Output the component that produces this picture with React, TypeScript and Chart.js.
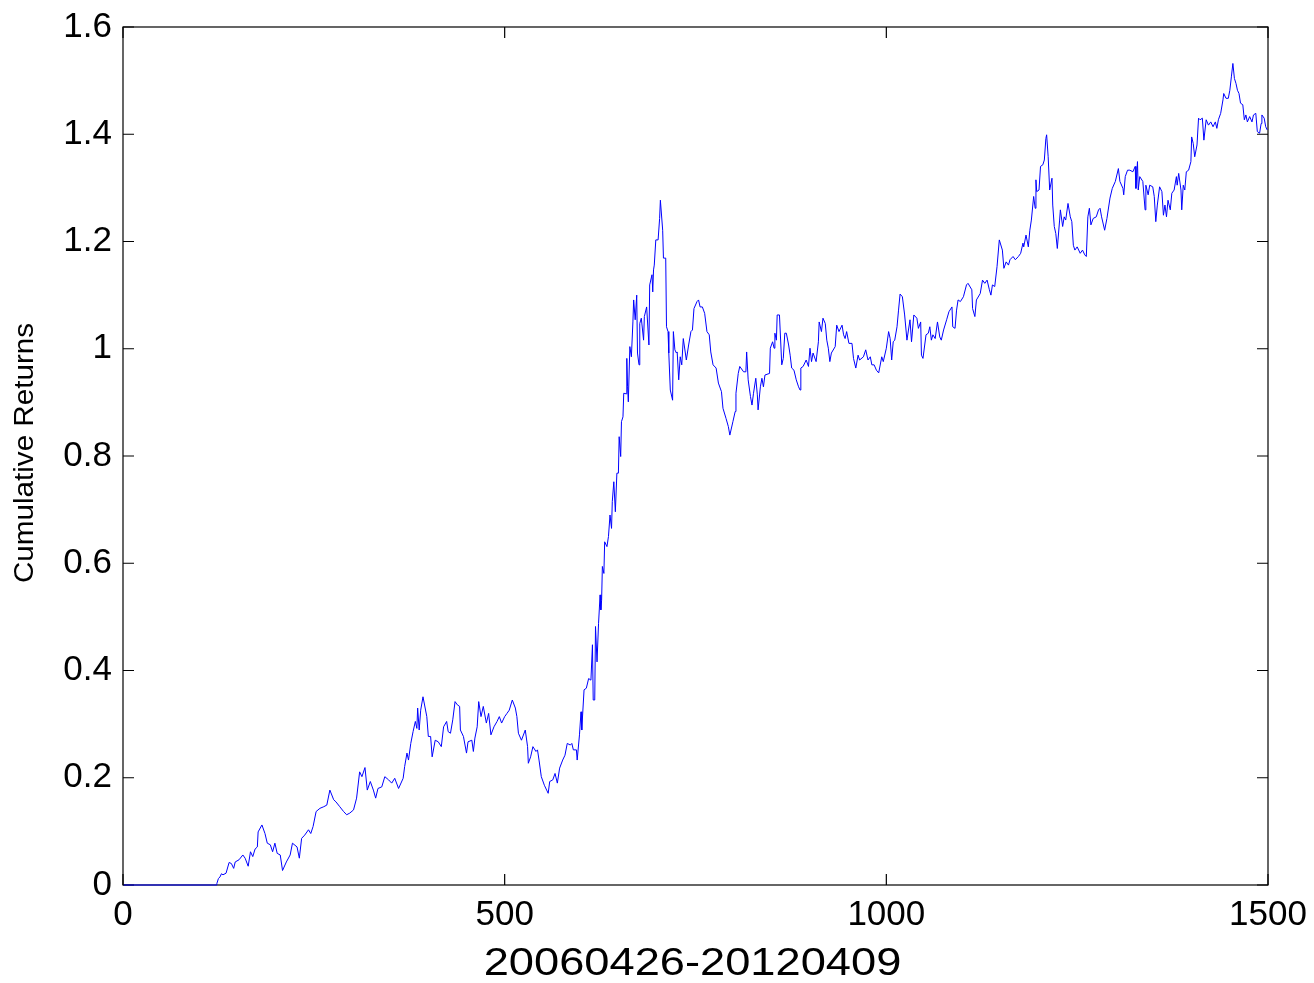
import React, { useEffect, useRef } from 'react';
import { Chart, registerables } from 'chart.js';

Chart.register(...registerables);

const X_TITLE = '20060426-20120409';
const Y_TITLE = 'Cumulative Returns';
const X_TICKS = [0, 500, 1000, 1500];
const Y_TICKS = [0, 0.2, 0.4, 0.6, 0.8, 1, 1.2, 1.4, 1.6];

const dayIndex = [
  1, 122, 123, 125, 127, 129, 131, 135, 139, 142, 145, 147, 152, 157, 160, 164, 167, 170, 173, 176,
  177, 182, 186, 189, 193, 196, 199, 202, 206, 209, 214, 219, 222, 228, 231, 234, 238, 243, 246, 249,
  253, 258, 263, 267, 271, 276, 279, 284, 289, 293, 297, 302, 306, 310, 313, 317, 320, 324, 328, 331,
  334, 339, 343, 348, 352, 356, 361, 367, 369, 372, 374, 377, 380, 383, 385, 386, 388, 390, 393, 398,
  400, 403, 405, 409, 413, 417, 420, 424, 426, 429, 432, 435, 438, 441, 442, 446, 450, 452, 457, 459,
  461, 464, 466, 469, 472, 476, 479, 482, 486, 490, 493, 496, 500, 503, 506, 510, 514, 516, 518, 522,
  527, 530, 531, 534, 537, 541, 543, 545, 548, 552, 555, 557, 559, 563, 566, 569, 572, 576, 579, 582,
  586, 588, 590, 594, 595, 598, 600, 601, 604, 607, 610, 613, 615, 616, 618, 619, 621, 623, 625, 626,
  627, 628, 630, 631, 634, 636, 638, 640, 641, 643, 645, 647, 649, 650, 652, 653, 655, 656, 659, 660,
  661, 662, 664, 666, 668, 669, 671, 673, 674, 676, 677, 679, 682, 683, 686, 689, 690, 693, 694, 695,
  696, 698, 701, 703, 704, 707, 708, 711, 712, 714, 715, 717, 720, 721, 723, 725, 726, 728, 730, 732,
  734, 738, 741, 744, 746, 748, 752, 754, 756, 759, 762, 765, 768, 770, 773, 777, 780, 784, 786, 790,
  793, 795, 799, 802, 803, 806, 808, 813, 816, 817, 819, 822, 824, 826, 829, 831, 832, 835, 837, 839,
  841, 847, 848, 851, 853, 854, 856, 857, 860, 863, 865, 867, 869, 872, 874, 876, 879, 882, 885, 887,
  888, 891, 895, 898, 900, 902, 904, 908, 911, 912, 915, 917, 920, 922, 924, 926, 928, 933, 935, 938,
  942, 944, 946, 948, 951, 955, 957, 960, 963, 965, 970, 973, 976, 979, 981, 984, 987, 990, 994, 996,
  1000, 1003, 1005, 1007, 1009, 1011, 1014, 1016, 1018, 1021, 1024, 1027, 1031, 1033, 1036, 1040, 1042, 1045, 1046, 1048,
  1052, 1055, 1057, 1059, 1061, 1064, 1067, 1070, 1072, 1075, 1079, 1082, 1086, 1087, 1090, 1092, 1094, 1097, 1101, 1105,
  1107, 1112, 1113, 1116, 1118, 1123, 1126, 1129, 1132, 1135, 1137, 1139, 1142, 1145, 1148, 1152, 1154, 1157, 1160, 1162,
  1166, 1169, 1173, 1176, 1179, 1180, 1183, 1186, 1188, 1190, 1193, 1195, 1196, 1197, 1200, 1202, 1205, 1207, 1209, 1210,
  1212, 1214, 1217, 1218, 1220, 1222, 1224, 1227, 1228, 1231, 1233, 1235, 1238, 1241, 1243, 1245, 1247, 1250, 1254, 1257,
  1260, 1262, 1264, 1266, 1268, 1271, 1275, 1278, 1280, 1282, 1286, 1289, 1293, 1296, 1300, 1302, 1304, 1306, 1310, 1311,
  1313, 1316, 1319, 1323, 1326, 1327, 1329, 1330, 1332, 1336, 1339, 1340, 1343, 1345, 1349, 1351, 1353, 1355, 1358, 1361,
  1363, 1365, 1367, 1369, 1372, 1374, 1377, 1380, 1381, 1383, 1386, 1387, 1389, 1391, 1393, 1396, 1399, 1400, 1402, 1404,
  1407, 1409, 1411, 1414, 1416, 1419, 1422, 1425, 1428, 1431, 1433, 1435, 1438, 1441, 1442, 1445, 1448, 1450, 1452, 1454,
  1456, 1458, 1460, 1462, 1464, 1467, 1469, 1471, 1473, 1476, 1479, 1481, 1484, 1486, 1489, 1491, 1492, 1495, 1497, 1499,
];

const cumulativeReturns = [
  0, 0, 0.003, 0.012, 0.015, 0.021, 0.019, 0.022, 0.042, 0.04, 0.031, 0.043, 0.047, 0.056, 0.05, 0.035, 0.062, 0.053, 0.067, 0.071,
  0.099, 0.112, 0.096, 0.078, 0.075, 0.062, 0.078, 0.059, 0.056, 0.027, 0.043, 0.056, 0.078, 0.071, 0.05, 0.087, 0.093, 0.103, 0.096, 0.109,
  0.137, 0.143, 0.146, 0.149, 0.177, 0.159, 0.155, 0.146, 0.137, 0.131, 0.134, 0.14, 0.162, 0.211, 0.202, 0.219, 0.177, 0.193, 0.177, 0.162,
  0.18, 0.183, 0.202, 0.196, 0.19, 0.199, 0.18, 0.199, 0.221, 0.246, 0.233, 0.264, 0.286, 0.305, 0.292, 0.33, 0.289, 0.326, 0.351, 0.314,
  0.277, 0.277, 0.239, 0.27, 0.267, 0.258, 0.295, 0.305, 0.286, 0.283, 0.308, 0.342, 0.336, 0.333, 0.289, 0.277, 0.246, 0.267, 0.27, 0.249,
  0.274, 0.295, 0.342, 0.314, 0.333, 0.302, 0.32, 0.28, 0.295, 0.305, 0.314, 0.302, 0.314, 0.32, 0.326, 0.345, 0.33, 0.314, 0.283, 0.27,
  0.289, 0.258, 0.227, 0.239, 0.258, 0.249, 0.252, 0.233, 0.202, 0.186, 0.177, 0.171, 0.193, 0.196, 0.208, 0.19, 0.218, 0.233, 0.242, 0.264,
  0.261, 0.264, 0.252, 0.252, 0.233, 0.28, 0.323, 0.289, 0.364, 0.367, 0.385, 0.382, 0.448, 0.345, 0.345, 0.482, 0.416, 0.488, 0.541, 0.513,
  0.531, 0.594, 0.581, 0.64, 0.631, 0.65, 0.69, 0.665, 0.715, 0.752, 0.696, 0.768, 0.768, 0.836, 0.799, 0.864, 0.873, 0.917, 0.916, 0.982,
  0.929, 0.901, 1.004, 0.985, 1.05, 1.091, 1.054, 1.1, 0.992, 0.97, 1.047, 1.057, 1.016, 1.06, 1.078, 1.007, 1.119, 1.138, 1.106, 1.147,
  1.156, 1.203, 1.203, 1.243, 1.277, 1.221, 1.169, 1.169, 1.041, 1.032, 0.992, 0.923, 0.904, 1.032, 0.998, 0.992, 0.994, 0.942, 0.985, 0.97,
  1.019, 0.979, 1.007, 1.032, 1.035, 1.075, 1.088, 1.091, 1.078, 1.078, 1.066, 1.032, 1.026, 0.994, 0.97, 0.964, 0.936, 0.92, 0.889, 0.87,
  0.855, 0.839, 0.864, 0.883, 0.917, 0.954, 0.967, 0.957, 0.957, 0.994, 0.942, 0.911, 0.895, 0.917, 0.945, 0.914, 0.886, 0.929, 0.945, 0.929,
  0.951, 0.954, 1.001, 1.013, 1.001, 1.029, 1.016, 1.063, 1.063, 0.97, 0.982, 1.029, 1.029, 1.007, 0.988, 0.964, 0.96, 0.942, 0.929, 0.923,
  0.964, 0.967, 0.979, 0.967, 1.001, 0.976, 0.992, 0.976, 1.013, 1.05, 1.032, 1.057, 1.047, 1.016, 1.001, 0.976, 0.992, 1.004, 1.044, 1.032,
  1.044, 1.026, 1.019, 1.032, 1.01, 1.01, 0.982, 0.964, 0.988, 0.979, 0.985, 0.998, 0.979, 0.985, 0.97, 0.97, 0.96, 0.955, 0.985, 0.976,
  1.001, 1.032, 1.019, 0.979, 1.013, 1.016, 1.041, 1.072, 1.102, 1.097, 1.063, 1.016, 1.054, 1.013, 1.063, 1.057, 1.038, 1.05, 0.988, 0.982,
  1.026, 1.029, 1.041, 1.016, 1.026, 1.019, 1.05, 1.022, 1.016, 1.035, 1.054, 1.069, 1.078, 1.041, 1.038, 1.072, 1.091, 1.088, 1.097, 1.119,
  1.122, 1.11, 1.075, 1.06, 1.091, 1.103, 1.128, 1.122, 1.128, 1.11, 1.1, 1.119, 1.116, 1.153, 1.203, 1.184, 1.15, 1.162, 1.156, 1.166,
  1.172, 1.166, 1.172, 1.178, 1.197, 1.19, 1.212, 1.19, 1.221, 1.24, 1.284, 1.262, 1.315, 1.293, 1.296, 1.34, 1.343, 1.352, 1.392, 1.399,
  1.358, 1.296, 1.318, 1.268, 1.228, 1.215, 1.187, 1.24, 1.259, 1.228, 1.246, 1.24, 1.271, 1.246, 1.237, 1.193, 1.184, 1.19, 1.178, 1.184,
  1.175, 1.172, 1.246, 1.262, 1.231, 1.243, 1.246, 1.259, 1.262, 1.246, 1.221, 1.243, 1.281, 1.299, 1.312, 1.324, 1.336, 1.312, 1.299, 1.287,
  1.321, 1.333, 1.333, 1.33, 1.34, 1.299, 1.349, 1.296, 1.321, 1.312, 1.259, 1.305, 1.287, 1.305, 1.302, 1.284, 1.237, 1.268, 1.302, 1.293,
  1.249, 1.268, 1.246, 1.277, 1.259, 1.29, 1.296, 1.321, 1.305, 1.327, 1.296, 1.259, 1.305, 1.296, 1.33, 1.333, 1.349, 1.395, 1.383, 1.358,
  1.38, 1.43, 1.427, 1.43, 1.389, 1.427, 1.417, 1.423, 1.414, 1.423, 1.411, 1.427, 1.439, 1.464, 1.476, 1.467, 1.467, 1.482, 1.507, 1.532,
  1.504, 1.495, 1.482, 1.476, 1.458, 1.455, 1.427, 1.436, 1.423, 1.433, 1.423, 1.436, 1.439, 1.405, 1.402, 1.42, 1.436, 1.43, 1.414, 1.408,
];

const FONT = '"Liberation Sans", Arial, Helvetica, sans-serif';
const LINE_COLOR = '#0000ff';
const TICK_LEN = 11;

const matlabAxesPlugin = {
  id: 'matlabAxes',
  beforeDatasetsDraw(chart: any) {
    const { ctx, chartArea } = chart;
    const { left, right, top, bottom } = chartArea;
    const xs = chart.scales.x;
    const ys = chart.scales.y;
    ctx.save();
    ctx.strokeStyle = '#000';
    ctx.lineWidth = 1.2;
    ctx.strokeRect(left, top, right - left, bottom - top);
    ctx.beginPath();
    X_TICKS.forEach((v) => {
      const px = xs.getPixelForValue(v);
      ctx.moveTo(px, bottom);
      ctx.lineTo(px, bottom - TICK_LEN);
      ctx.moveTo(px, top);
      ctx.lineTo(px, top + TICK_LEN);
    });
    Y_TICKS.forEach((v) => {
      const py = ys.getPixelForValue(v);
      ctx.moveTo(left, py);
      ctx.lineTo(left + TICK_LEN, py);
      ctx.moveTo(right, py);
      ctx.lineTo(right - TICK_LEN, py);
    });
    ctx.stroke();
    ctx.restore();
  },
  afterDraw(chart: any) {
    const { ctx, chartArea } = chart;
    const { left, right, top, bottom } = chartArea;
    ctx.save();
    ctx.fillStyle = '#000';
    ctx.textAlign = 'center';
    ctx.textBaseline = 'alphabetic';
    // x-axis title
    ctx.save();
    ctx.font = `39px ${FONT}`;
    ctx.translate((left + right) / 2 - 3, 975);
    ctx.scale(1.16, 1);
    ctx.fillText(X_TITLE, 0, 0);
    ctx.restore();
    // y-axis title
    ctx.save();
    ctx.font = `27px ${FONT}`;
    ctx.translate(33, (top + bottom) / 2 - 3);
    ctx.rotate(-Math.PI / 2);
    ctx.scale(1.097, 1);
    ctx.fillText(Y_TITLE, 0, 0);
    ctx.restore();
    ctx.restore();
  },
};

export default function App() {
  const canvasRef = useRef<HTMLCanvasElement | null>(null);

  useEffect(() => {
    const canvas = canvasRef.current;
    if (!canvas) return;
    const data = dayIndex.map((x, i) => ({ x, y: cumulativeReturns[i] }));
    const chart = new Chart(canvas, {
      type: 'line',
      data: {
        datasets: [
          {
            label: Y_TITLE,
            data,
            borderColor: LINE_COLOR,
            borderWidth: 1,
            pointRadius: 0,
            tension: 0,
            fill: false,
            clip: 3,
          },
        ],
      },
      plugins: [matlabAxesPlugin],
      options: {
        responsive: false,
        animation: false,
        devicePixelRatio: 1,
        layout: { padding: { top: 27, right: 46, left: 0, bottom: 0 } },
        plugins: {
          legend: { display: false },
          tooltip: { enabled: false },
          title: { display: false },
        },
        scales: {
          x: {
            type: 'linear',
            min: 0,
            max: 1500,
            afterBuildTicks: (s: any) => {
              s.ticks = X_TICKS.map((v) => ({ value: v }));
            },
            afterFit: (s: any) => {
              s.height = 98;
              s.paddingLeft = 0;
              s.paddingRight = 0;
              s.paddingTop = 0;
              s.paddingBottom = 0;
            },
            ticks: {
              font: { family: FONT, size: 35 },
              color: '#000',
              padding: 9,
              maxRotation: 0,
              autoSkip: false,
              callback: (v: any) => String(v),
            },
            grid: { display: false, drawTicks: false },
            border: { display: false },
          },
          y: {
            type: 'linear',
            min: 0,
            max: 1.6,
            afterBuildTicks: (s: any) => {
              s.ticks = Y_TICKS.map((v) => ({ value: v }));
            },
            afterFit: (s: any) => {
              s.width = 123;
              s.paddingLeft = 0;
              s.paddingRight = 0;
              s.paddingTop = 0;
              s.paddingBottom = 0;
            },
            ticks: {
              font: { family: FONT, size: 35 },
              color: '#000',
              padding: 11,
              autoSkip: false,
              callback: (v: any) => String(Math.round(Number(v) * 10) / 10),
            },
            grid: { display: false, drawTicks: false },
            border: { display: false },
          },
        },
      },
    });
    return () => chart.destroy();
  }, []);

  return (
    <div style={{ position: 'absolute', left: 0, top: 0, width: 1314, height: 983, background: '#fff' }}>
      <canvas ref={canvasRef} width={1314} height={983} style={{ display: 'block' }} />
    </div>
  );
}
